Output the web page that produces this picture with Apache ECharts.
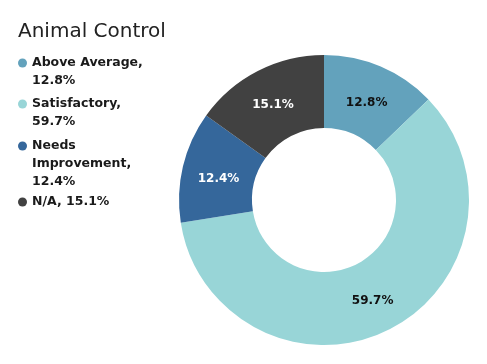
<!DOCTYPE html>
<html><head><meta charset="utf-8">
<script src="https://cdn.jsdelivr.net/npm/echarts@6/dist/echarts.min.js"></script>
<style>html,body{margin:0;padding:0;background:#fff}#c{width:487px;height:364px}</style>
</head><body><div id="c"></div>
<script>
const categories = ['Above Average', 'Satisfactory', 'Needs Improvement', 'N/A'];
const values = [12.8, 59.7, 12.4, 15.1];
const legendTexts = ['Above Average,\n12.8%', 'Satisfactory,\n59.7%', 'Needs\nImprovement,\n12.4%', 'N/A, 15.1%'];
const colors = ['#63a2bc', '#98d5d7', '#35679b', '#414141'];
const labelColors = ['#111', '#111', '#fff', '#fff'];
const labelOffsets = [[-1, 5], [-1, 1], [3, 5], [0, 4]];

const FONT = 'DejaVu Sans, Verdana, sans-serif';
const L = 18;
const iconY = [63, 104, 146, 202];

const legends = categories.map((c, i) => {
  const n = legendTexts[i].split('\n').length;
  return {
    orient: 'vertical',
    left: 18,
    top: iconY[i] - (2 * n - 1) * L / 2,
    padding: 0,
    icon: 'circle',
    itemWidth: 9,
    itemHeight: 9,
    itemGap: 5,
    data: [c],
    selectedMode: false,
    formatter: () => '\n'.repeat(n - 1) + legendTexts[i],
    textStyle: {
      fontFamily: FONT, fontSize: 12.5, fontWeight: 'bold', color: '#1a1a1a',
      lineHeight: L
    }
  };
});

const chart = echarts.init(document.getElementById('c'), null, {renderer: 'canvas'});
chart.setOption({
  animation: false,
  color: colors,
  title: {
    text: 'Animal Control', left: 18, top: 22, padding: 0,
    textStyle: {fontFamily: FONT, fontSize: 20, fontWeight: 'normal', color: '#222'}
  },
  legend: legends,
  series: [{
    type: 'pie',
    center: [324, 200],
    radius: [72, 145],
    startAngle: 90,
    clockwise: true,
    avoidLabelOverlap: false,
    label: {
      show: true, position: 'inside',
      fontFamily: FONT, fontSize: 12, fontWeight: 'bold',
      formatter: p => p.value.toFixed(1) + '%'
    },
    labelLine: {show: false},
    itemStyle: {borderWidth: 0},
    emphasis: {disabled: true},
    data: categories.map((c, i) => ({
      name: c, value: values[i],
      label: {color: labelColors[i], offset: labelOffsets[i]}
    }))
  }]
});
</script></body></html>
